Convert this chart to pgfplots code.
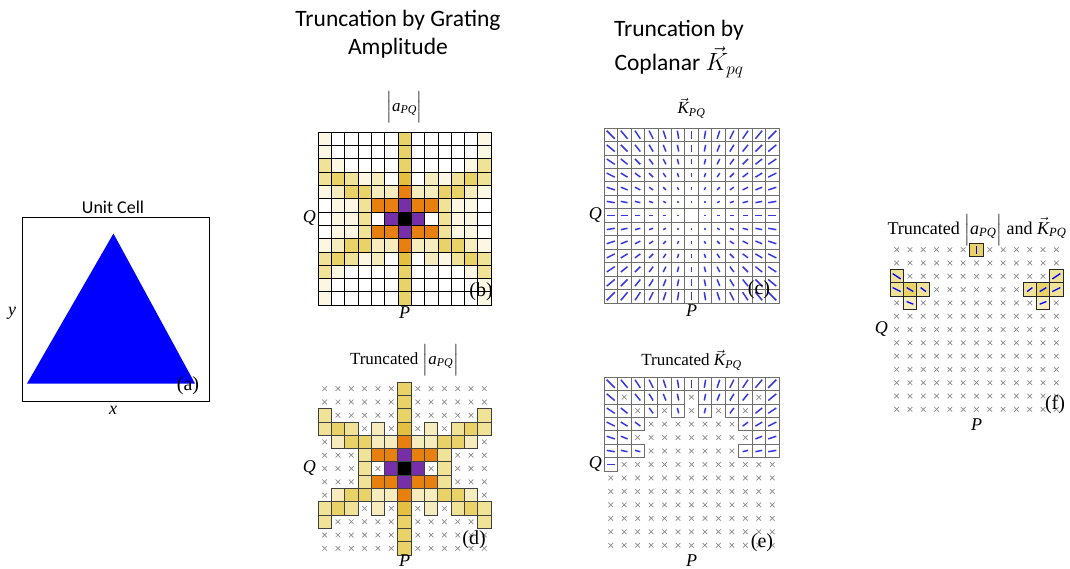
\documentclass[border=0pt]{standalone}
\usepackage{amsmath}
\usepackage{pgfplots}
\pgfplotsset{compat=1.18}
\usepackage{pgfplotstable}
\usepackage{fontspec}
\setmainfont{Liberation Serif}
\newfontfamily\calibri{Carlito}

\definecolor{kblue}{RGB}{55,55,225}
\definecolor{xgray}{RGB}{140,140,140}
\definecolor{cgray}{RGB}{110,110,110}

\pgfplotsset{
  colormap={amp}{rgb255(0)=(255,255,255) rgb255(1)=(251,247,226) rgb255(2)=(246,236,190)
    rgb255(3)=(240,226,150) rgb255(4)=(233,211,105) rgb255(5)=(228,192,65)
    rgb255(6)=(232,128,16) rgb255(7)=(118,46,170) rgb255(8)=(0,0,0)},
  cellax/.style={anchor=south west, scale only axis, width=#1, height=#1,
    xmin=-6.5, xmax=6.5, ymin=-6.5, ymax=6.5, clip=false,
    point meta min=0, point meta max=8, colormap name=amp},
  cellax/.default=173pt,
  gridded/.style={xtick={-6.5,-5.5,...,6.5}, ytick={-6.5,-5.5,...,6.5},
    xticklabel style={opacity=0, text opacity=0}, yticklabel style={opacity=0, text opacity=0},
    major tick length=0pt, grid=major,
    major grid style={#1, line width=0.7pt}, axis line style={#1, line width=0.7pt},
    axis on top},
}

% x y : P, Q indices; c : amplitude level; u v : K vector; e : kept in (e); f : kept in (f)
\pgfplotstableread[row sep=\\]{
x y c u v e f\\
-6 6 1 -0.6 0.6 1 0\\ -5 6 0 -0.5 0.6 1 0\\ -4 6 0 -0.4 0.6 1 0\\ -3 6 0 -0.3 0.6 1 0\\ -2 6 0 -0.2 0.6 1 0\\ -1 6 0 -0.1 0.6 1 0\\ 0 6 4 0 0.6 1 1\\ 1 6 0 0.1 0.6 1 0\\ 2 6 0 0.2 0.6 1 0\\ 3 6 0 0.3 0.6 1 0\\ 4 6 0 0.4 0.6 1 0\\ 5 6 0 0.5 0.6 1 0\\ 6 6 1 0.6 0.6 1 0\\
-6 5 1 -0.6 0.5 1 0\\ -5 5 0 -0.5 0.5 0 0\\ -4 5 0 -0.4 0.5 1 0\\ -3 5 0 -0.3 0.5 1 0\\ -2 5 0 -0.2 0.5 1 0\\ -1 5 0 -0.1 0.5 1 0\\ 0 5 4 0 0.5 0 0\\ 1 5 0 0.1 0.5 1 0\\ 2 5 0 0.2 0.5 1 0\\ 3 5 0 0.3 0.5 1 0\\ 4 5 0 0.4 0.5 1 0\\ 5 5 0 0.5 0.5 0 0\\ 6 5 1 0.6 0.5 1 0\\
-6 4 3 -0.6 0.4 1 1\\ -5 4 1 -0.5 0.4 1 0\\ -4 4 0 -0.4 0.4 0 0\\ -3 4 0 -0.3 0.4 1 0\\ -2 4 0 -0.2 0.4 0 0\\ -1 4 0 -0.1 0.4 1 0\\ 0 4 4 0 0.4 0 0\\ 1 4 0 0.1 0.4 1 0\\ 2 4 0 0.2 0.4 0 0\\ 3 4 0 0.3 0.4 1 0\\ 4 4 0 0.4 0.4 0 0\\ 5 4 1 0.5 0.4 1 0\\ 6 4 3 0.6 0.4 1 1\\
-6 3 3 -0.6 0.3 1 1\\ -5 3 4 -0.5 0.3 1 1\\ -4 3 3 -0.4 0.3 1 1\\ -3 3 1 -0.3 0.3 0 0\\ -2 3 2 -0.2 0.3 0 0\\ -1 3 0 -0.1 0.3 0 0\\ 0 3 5 0 0.3 0 0\\ 1 3 0 0.1 0.3 0 0\\ 2 3 2 0.2 0.3 0 0\\ 3 3 1 0.3 0.3 0 0\\ 4 3 3 0.4 0.3 1 1\\ 5 3 4 0.5 0.3 1 1\\ 6 3 3 0.6 0.3 1 1\\
-6 2 1 -0.6 0.2 1 0\\ -5 2 2 -0.5 0.2 1 1\\ -4 2 4 -0.4 0.2 0 0\\ -3 2 4 -0.3 0.2 0 0\\ -2 2 2 -0.2 0.2 0 0\\ -1 2 2 -0.1 0.2 0 0\\ 0 2 6 0 0.2 0 0\\ 1 2 2 0.1 0.2 0 0\\ 2 2 2 0.2 0.2 0 0\\ 3 2 4 0.3 0.2 0 0\\ 4 2 4 0.4 0.2 0 0\\ 5 2 2 0.5 0.2 1 1\\ 6 2 1 0.6 0.2 1 0\\
-6 1 0 -0.6 0.1 1 0\\ -5 1 1 -0.5 0.1 1 0\\ -4 1 1 -0.4 0.1 1 0\\ -3 1 3 -0.3 0.1 0 0\\ -2 1 6 -0.2 0.1 0 0\\ -1 1 6 -0.1 0.1 0 0\\ 0 1 7 0 0.1 0 0\\ 1 1 6 0.1 0.1 0 0\\ 2 1 6 0.2 0.1 0 0\\ 3 1 3 0.3 0.1 0 0\\ 4 1 1 0.4 0.1 1 0\\ 5 1 1 0.5 0.1 1 0\\ 6 1 0 0.6 0.1 1 0\\
-6 0 0 -0.6 0 1 0\\ -5 0 1 -0.5 0 0 0\\ -4 0 1 -0.4 0 0 0\\ -3 0 3 -0.3 0 0 0\\ -2 0 0 -0.2 0 0 0\\ -1 0 7 -0.1 0 0 0\\ 0 0 8 0 0 0 0\\ 1 0 7 0.1 0 0 0\\ 2 0 0 0.2 0 0 0\\ 3 0 3 0.3 0 0 0\\ 4 0 1 0.4 0 0 0\\ 5 0 1 0.5 0 0 0\\ 6 0 0 0.6 0 0 0\\
-6 -1 0 -0.6 -0.1 0 0\\ -5 -1 1 -0.5 -0.1 0 0\\ -4 -1 1 -0.4 -0.1 0 0\\ -3 -1 3 -0.3 -0.1 0 0\\ -2 -1 6 -0.2 -0.1 0 0\\ -1 -1 6 -0.1 -0.1 0 0\\ 0 -1 7 0 -0.1 0 0\\ 1 -1 6 0.1 -0.1 0 0\\ 2 -1 6 0.2 -0.1 0 0\\ 3 -1 3 0.3 -0.1 0 0\\ 4 -1 1 0.4 -0.1 0 0\\ 5 -1 1 0.5 -0.1 0 0\\ 6 -1 0 0.6 -0.1 0 0\\
-6 -2 1 -0.6 -0.2 0 0\\ -5 -2 2 -0.5 -0.2 0 0\\ -4 -2 4 -0.4 -0.2 0 0\\ -3 -2 4 -0.3 -0.2 0 0\\ -2 -2 2 -0.2 -0.2 0 0\\ -1 -2 2 -0.1 -0.2 0 0\\ 0 -2 6 0 -0.2 0 0\\ 1 -2 2 0.1 -0.2 0 0\\ 2 -2 2 0.2 -0.2 0 0\\ 3 -2 4 0.3 -0.2 0 0\\ 4 -2 4 0.4 -0.2 0 0\\ 5 -2 2 0.5 -0.2 0 0\\ 6 -2 1 0.6 -0.2 0 0\\
-6 -3 3 -0.6 -0.3 0 0\\ -5 -3 4 -0.5 -0.3 0 0\\ -4 -3 3 -0.4 -0.3 0 0\\ -3 -3 1 -0.3 -0.3 0 0\\ -2 -3 2 -0.2 -0.3 0 0\\ -1 -3 0 -0.1 -0.3 0 0\\ 0 -3 5 0 -0.3 0 0\\ 1 -3 0 0.1 -0.3 0 0\\ 2 -3 2 0.2 -0.3 0 0\\ 3 -3 1 0.3 -0.3 0 0\\ 4 -3 3 0.4 -0.3 0 0\\ 5 -3 4 0.5 -0.3 0 0\\ 6 -3 3 0.6 -0.3 0 0\\
-6 -4 3 -0.6 -0.4 0 0\\ -5 -4 1 -0.5 -0.4 0 0\\ -4 -4 0 -0.4 -0.4 0 0\\ -3 -4 0 -0.3 -0.4 0 0\\ -2 -4 0 -0.2 -0.4 0 0\\ -1 -4 0 -0.1 -0.4 0 0\\ 0 -4 4 0 -0.4 0 0\\ 1 -4 0 0.1 -0.4 0 0\\ 2 -4 0 0.2 -0.4 0 0\\ 3 -4 0 0.3 -0.4 0 0\\ 4 -4 0 0.4 -0.4 0 0\\ 5 -4 1 0.5 -0.4 0 0\\ 6 -4 3 0.6 -0.4 0 0\\
-6 -5 1 -0.6 -0.5 0 0\\ -5 -5 0 -0.5 -0.5 0 0\\ -4 -5 0 -0.4 -0.5 0 0\\ -3 -5 0 -0.3 -0.5 0 0\\ -2 -5 0 -0.2 -0.5 0 0\\ -1 -5 0 -0.1 -0.5 0 0\\ 0 -5 4 0 -0.5 0 0\\ 1 -5 0 0.1 -0.5 0 0\\ 2 -5 0 0.2 -0.5 0 0\\ 3 -5 0 0.3 -0.5 0 0\\ 4 -5 0 0.4 -0.5 0 0\\ 5 -5 0 0.5 -0.5 0 0\\ 6 -5 1 0.6 -0.5 0 0\\
-6 -6 1 -0.6 -0.6 0 0\\ -5 -6 0 -0.5 -0.6 0 0\\ -4 -6 0 -0.4 -0.6 0 0\\ -3 -6 0 -0.3 -0.6 0 0\\ -2 -6 0 -0.2 -0.6 0 0\\ -1 -6 0 -0.1 -0.6 0 0\\ 0 -6 4 0 -0.6 0 0\\ 1 -6 0 0.1 -0.6 0 0\\ 2 -6 0 0.2 -0.6 0 0\\ 3 -6 0 0.3 -0.6 0 0\\ 4 -6 0 0.4 -0.6 0 0\\ 5 -6 0 0.5 -0.6 0 0\\ 6 -6 1 0.6 -0.6 0 0\\
}\cells

\newcommand{\apq}{$\Bigl|\textit{a}_{\textit{PQ}}\Bigr|$}
\newcommand{\kpq}{$\vec{\textit{K}}_{\textit{PQ}}$}

\begin{document}
\begin{tikzpicture}
\path[use as bounding box, fill=white] (0pt,0pt) rectangle (1070pt,569pt);

% ---------- titles ----------
\begin{scope}[every node/.style={font=\calibri\fontsize{23.5}{28}\selectfont, anchor=base, inner sep=0pt}]
\node at (398pt,542pt) {Truncation by Grating};
\node at (398pt,514pt) {Amplitude};
\node at (679pt,532pt) {Truncation by};
\node at (679pt,498pt) {Coplanar $\vec{K}_{pq}$};
\end{scope}

% ---------- (a) unit cell ----------
\begin{axis}[at={(22pt,168pt)}, anchor=south west, scale only axis, width=187pt, height=184pt,
  xmin=0, xmax=1, ymin=0, ymax=1, xtick=\empty, ytick=\empty,
  axis line style={black, line width=0.8pt}, clip=false]
\addplot[fill=blue, draw=none] coordinates {(0.027,0.095) (0.489,0.910) (0.925,0.095) (0.027,0.095)};
\end{axis}
\node[font=\calibri\fontsize{18}{20}\selectfont, anchor=base, inner sep=0pt] at (113pt,355pt) {Unit Cell};
\node[font=\fontsize{20}{22}\selectfont, inner sep=0pt] at (188pt,183pt) {(a)};
\node[font=\fontsize{18}{20}\selectfont\itshape, inner sep=0pt] at (113pt,159pt) {x};
\node[font=\fontsize{18}{20}\selectfont\itshape, inner sep=0pt] at (12pt,256pt) {y};

% ---------- (b) amplitude ----------
\begin{axis}[cellax, at={(318pt,264pt)}, gridded=black]
\addplot[scatter, only marks, mark=square*, mark size=6.65pt, point meta=\thisrow{c},
  scatter/use mapped color={draw=none, fill=mapped color}] table[x=x, y=y] {\cells};
\end{axis}
\node[font=\fontsize{17}{20}\selectfont, inner sep=0pt] at (404.5pt,462pt) {\apq};
\node[font=\fontsize{18}{20}\selectfont\itshape, anchor=east, inner sep=1pt] at (317pt,350.5pt) {Q};
\node[font=\fontsize{18}{20}\selectfont\itshape, anchor=north, inner sep=0pt] at (404.5pt,262pt) {P};
\node[font=\fontsize{20}{22}\selectfont, inner sep=0pt] at (481pt,277pt) {(b)};

% ---------- (c) K vectors ----------
\begin{axis}[cellax=175pt, at={(604pt,266pt)}, gridded=cgray]
\addplot[quiver={u=\thisrow{u}, v=\thisrow{v}}, draw=kblue, line width=1.5pt]
  table[x expr=\thisrow{x}-0.5*\thisrow{u}, y expr=\thisrow{y}-0.5*\thisrow{v}] {\cells};
\end{axis}
\node[font=\fontsize{17}{20}\selectfont, inner sep=0pt] at (691.5pt,461pt) {\kpq};
\node[font=\fontsize{18}{20}\selectfont\itshape, anchor=east, inner sep=1pt] at (603pt,353.5pt) {Q};
\node[font=\fontsize{18}{20}\selectfont\itshape, anchor=north, inner sep=0pt] at (691.5pt,264pt) {P};
\node[font=\fontsize{20}{22}\selectfont, inner sep=0pt] at (759pt,279pt) {(c)};

% ---------- (d) truncated amplitude ----------
\begin{axis}[cellax, at={(318pt,14pt)}, axis lines=none]
\addplot[only marks, mark=x, mark size=3.3pt, draw=xgray, line width=0.7pt,
  restrict expr to domain={\thisrow{c}}{0:1}] table[x=x, y=y] {\cells};
\addplot[scatter, only marks, mark=square*, mark size=6.65pt, point meta=\thisrow{c},
  restrict expr to domain={\thisrow{c}}{2:8},
  scatter/use mapped color={draw=black!75, line width=0.8pt, fill=mapped color}] table[x=x, y=y] {\cells};
\end{axis}
\node[font=\fontsize{17}{20}\selectfont, inner sep=0pt] at (404.5pt,209pt) {Truncated \apq};
\node[font=\fontsize{18}{20}\selectfont\itshape, anchor=east, inner sep=1pt] at (317pt,100.5pt) {Q};
\node[font=\fontsize{18}{20}\selectfont\itshape, anchor=north, inner sep=0pt] at (404.5pt,14.5pt) {P};
\node[font=\fontsize{20}{22}\selectfont, inner sep=0pt] at (474pt,29pt) {(d)};

% ---------- (e) truncated K ----------
\begin{axis}[cellax=175pt, at={(604pt,17pt)}, axis lines=none]
\addplot[only marks, mark=x, mark size=3.3pt, draw=xgray, line width=0.7pt,
  restrict expr to domain={\thisrow{e}}{-0.5:0.5}] table[x=x, y=y] {\cells};
\addplot[only marks, mark=square, mark size=6.73pt, draw=cgray, line width=0.8pt,
  restrict expr to domain={\thisrow{e}}{0.5:1.5}] table[x=x, y=y] {\cells};
\addplot[quiver={u=\thisrow{u}, v=\thisrow{v}}, draw=kblue, line width=1.5pt,
  restrict expr to domain={\thisrow{e}}{0.5:1.5}]
  table[x expr=\thisrow{x}-0.5*\thisrow{u}, y expr=\thisrow{y}-0.5*\thisrow{v}] {\cells};
\end{axis}
\node[font=\fontsize{17}{20}\selectfont, inner sep=0pt] at (691.5pt,209pt) {Truncated \kpq};
\node[font=\fontsize{18}{20}\selectfont\itshape, anchor=east, inner sep=1pt] at (603pt,104.5pt) {Q};
\node[font=\fontsize{18}{20}\selectfont\itshape, anchor=north, inner sep=0pt] at (691.5pt,14pt) {P};
\node[font=\fontsize{20}{22}\selectfont, inner sep=0pt] at (762pt,26pt) {(e)};

% ---------- (f) truncated both: cells ----------
\begin{axis}[cellax, at={(890pt,153pt)}, axis lines=none]
\addplot[only marks, mark=x, mark size=3.3pt, draw=xgray, line width=0.7pt,
  restrict expr to domain={\thisrow{f}}{-0.5:0.5}] table[x=x, y=y] {\cells};
\addplot[scatter, only marks, mark=square*, mark size=6.65pt, point meta=\thisrow{c},
  restrict expr to domain={\thisrow{f}}{0.5:1.5},
  scatter/use mapped color={draw=black!85, line width=1pt, fill=mapped color}] table[x=x, y=y] {\cells};
\end{axis}
% ---------- (f) truncated both: vectors on top ----------
\begin{axis}[cellax, at={(890pt,153pt)}, axis lines=none]
\addplot[quiver={u=\thisrow{u}, v=\thisrow{v}}, draw=blue, line width=1.3pt,
  restrict expr to domain={\thisrow{f}}{0.5:1.5}]
  table[x expr=\thisrow{x}-0.5*\thisrow{u}, y expr=\thisrow{y}-0.5*\thisrow{v}] {\cells};
\end{axis}
\node[font=\fontsize{18}{20}\selectfont, inner sep=0pt] at (977pt,339pt) {Truncated \apq{} and \kpq};
\node[font=\fontsize{18}{20}\selectfont\itshape, anchor=east, inner sep=1pt] at (889pt,239.5pt) {Q};
\node[font=\fontsize{18}{20}\selectfont\itshape, anchor=north, inner sep=0pt] at (976.5pt,150pt) {P};
\node[font=\fontsize{20}{22}\selectfont, inner sep=0pt] at (1055pt,164pt) {(f)};
\end{tikzpicture}
\end{document}
